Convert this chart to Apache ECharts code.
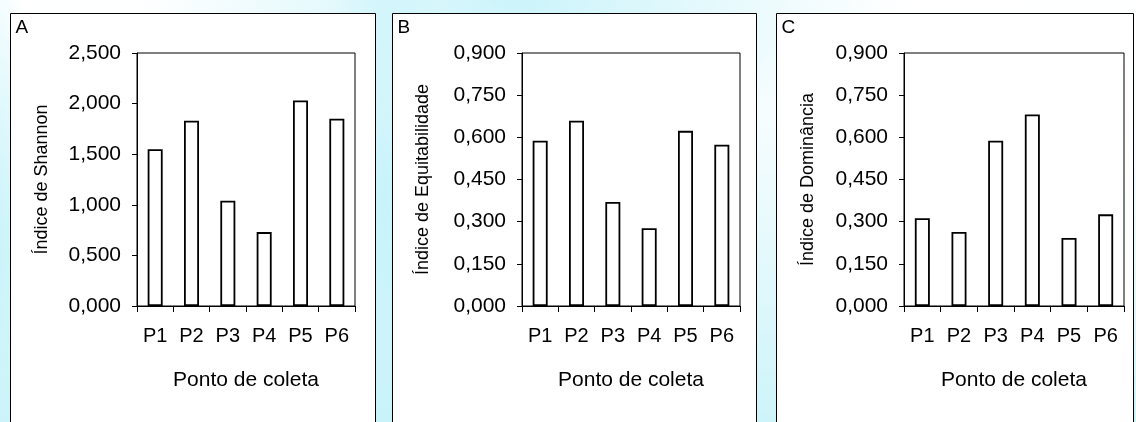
<!DOCTYPE html>
<html>
<head>
<meta charset="utf-8">
<script src="https://cdn.jsdelivr.net/npm/echarts@6/dist/echarts.min.js"></script>
<style>
html,body{margin:0;padding:0;}
body{width:1136px;height:422px;overflow:hidden;
background:
 radial-gradient(ellipse 380px 140px at 520px 0px, rgba(200,243,250,0.95), rgba(255,255,255,0) 100%),
 radial-gradient(ellipse 60px 380px at 385px 200px, rgba(195,242,250,0.9), rgba(255,255,255,0) 100%),
 radial-gradient(ellipse 40px 300px at 0px 250px, rgba(200,243,250,0.9), rgba(255,255,255,0) 100%),
 linear-gradient(180deg, #ffffff 0px, #f2fcfe 150px, #cdf4f9 422px);}
#chart{width:1136px;height:422px;}
</style>
</head>
<body>
<div id="chart"></div>
<script>
const categories = ['P1','P2','P3','P4','P5','P6'];
const shannon = [1.55, 1.83, 1.04, 0.73, 2.03, 1.85];
const equitabilidade = [0.588, 0.659, 0.370, 0.277, 0.623, 0.574];
const dominancia = [0.312, 0.263, 0.588, 0.681, 0.242, 0.326];
const panelLetters = ['A','B','C'];
const yNames = ['Índice de Shannon','Índice de Equitabilidade','Índice de Dominância'];
const xName = 'Ponto de coleta';
const yMax = [2.5, 0.9, 0.9];
const yStep = [0.5, 0.15, 0.15];

const FONT = '"Liberation Sans", Arial, sans-serif';
const chart = echarts.init(document.getElementById('chart'));

const grids = [
  {left:137, top:53, width:218, height:253},
  {left:522, top:53, width:218, height:253},
  {left:904, top:53, width:220, height:253}
];
const frames = [
  {x:10.5, w:365},
  {x:392.5, w:364},
  {x:776.5, w:357}
];
const nameGaps = [86, 90, 87];
const dataSets = [shannon, equitabilidade, dominancia];

const option = {
  animation:false,
  textStyle:{fontFamily:FONT},
  graphic: frames.map((f,i)=>({
    type:'group', z:-10,
    children:[
      {type:'rect', z:-10, shape:{x:f.x, y:13.5, width:f.w, height:420},
       style:{fill:'#fff', stroke:'#000', lineWidth:1}},
      {type:'text', z:-9, x:f.x+5, y:18,
       style:{text:panelLetters[i], fill:'#000', font:'19px '+FONT}}
    ]
  })),
  grid: grids.map(g=>Object.assign({show:true, borderColor:'#000', borderWidth:1, backgroundColor:'transparent'}, g)),
  xAxis: grids.map((g,i)=>({
    type:'category', gridIndex:i, data:categories,
    boundaryGap:true,
    axisLine:{lineStyle:{color:'#000', width:1}},
    axisTick:{show:true, length:6, alignWithLabel:false, lineStyle:{color:'#000'}},
    axisLabel:{color:'#000', fontSize:20, margin:20, fontFamily:FONT},
    name:xName, nameLocation:'middle', nameGap:64,
    nameTextStyle:{color:'#000', fontSize:21, fontFamily:FONT},
    splitLine:{show:false}
  })),
  yAxis: grids.map((g,i)=>({
    type:'value', gridIndex:i, min:0, max:yMax[i], interval:yStep[i],
    axisLine:{show:true, lineStyle:{color:'#000', width:1}},
    axisTick:{show:true, length:5, inside:false, lineStyle:{color:'#000'}},
    axisLabel:{color:'#000', fontSize:21, margin:16, fontFamily:FONT,
      formatter:v=>v.toFixed(3).replace('.',',')},
    splitLine:{show:false},
    name:yNames[i], nameLocation:'middle', nameGap:nameGaps[i], nameRotate:90,
    nameTextStyle:{color:'#000', fontSize:18, fontFamily:FONT}
  })),
  series: dataSets.map((d,i)=>({
    type:'bar', xAxisIndex:i, yAxisIndex:i, data:d,
    barWidth:15,
    itemStyle:{color:'#fff', borderColor:'#000', borderWidth:1.8},
    emphasis:{disabled:true}
  }))
};
chart.setOption(option);
</script>
</body>
</html>
